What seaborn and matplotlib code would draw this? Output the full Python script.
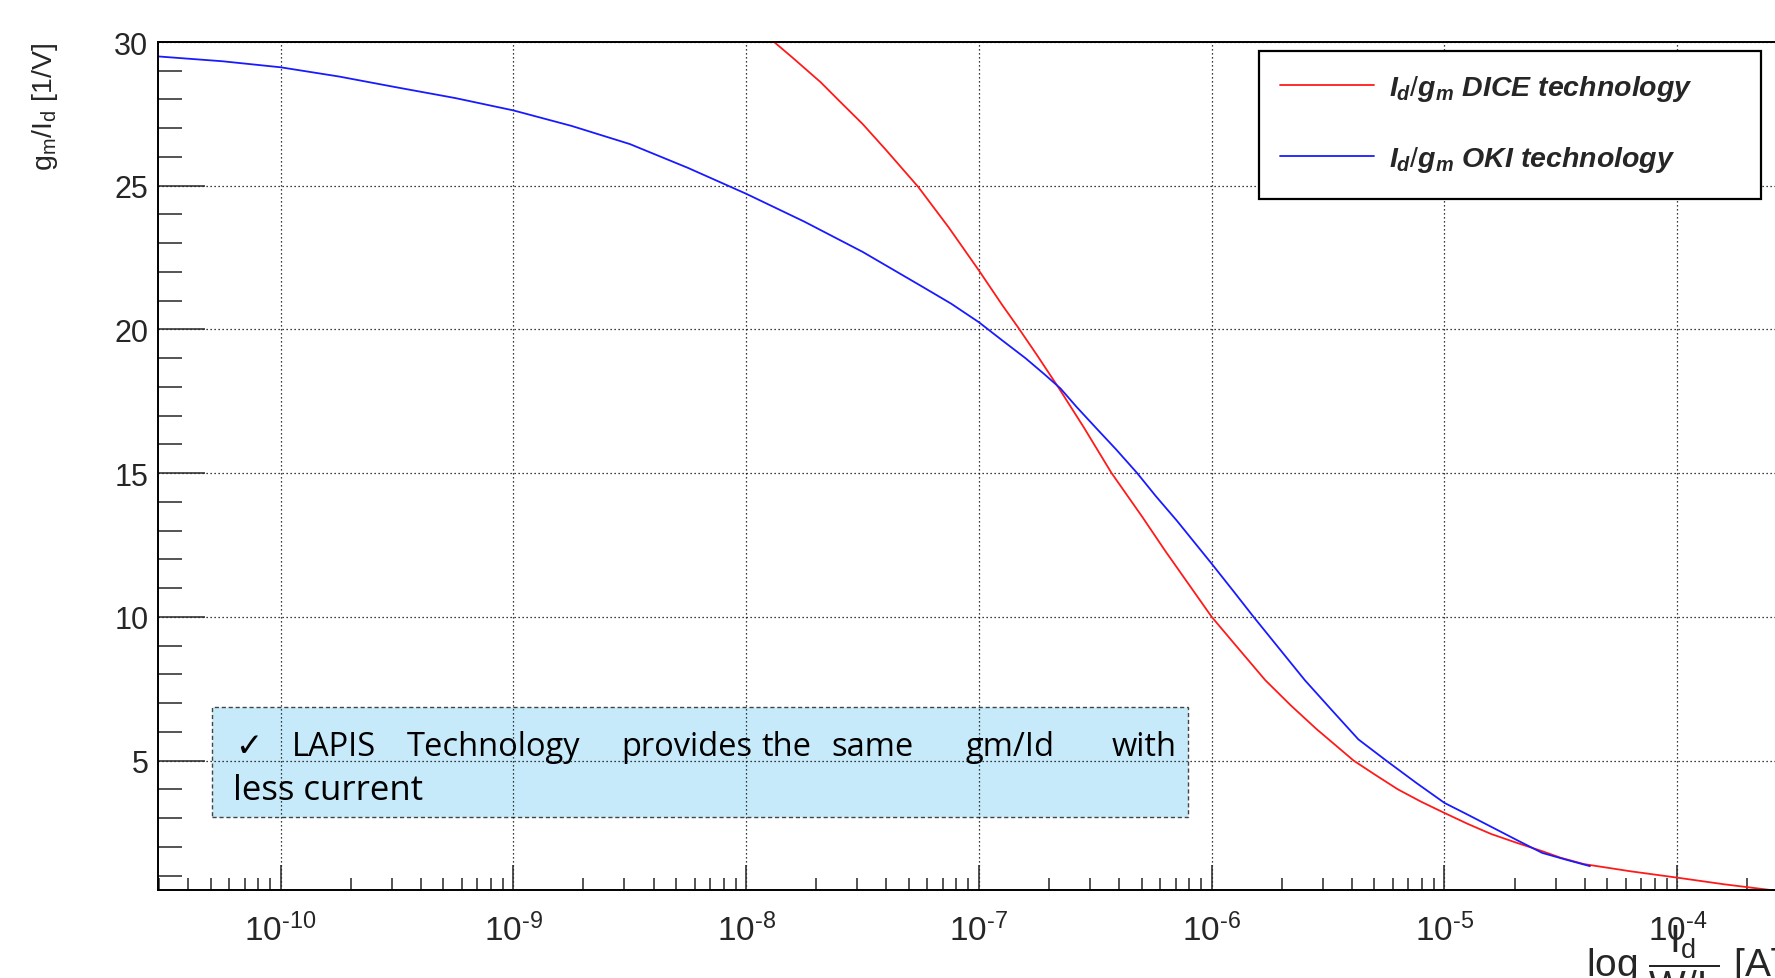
import numpy as np
import pandas as pd
import matplotlib
matplotlib.use("Agg")
import matplotlib.pyplot as plt
import matplotlib.patches as mpatches
from matplotlib.ticker import LogLocator, MultipleLocator, NullFormatter, FuncFormatter
import seaborn as sns

# ---- data: log10 of drain current density I_d/(W/L) [A] and gm/Id [1/V] ----
log_id_dice = [-7.95, -7.88, -7.80, -7.68, -7.60, -7.50, -7.40, -7.26, -7.13,
               -7.00, -6.90, -6.83, -6.75, -6.66, -6.55, -6.43, -6.30, -6.20,
               -6.10, -6.00, -5.90, -5.77, -5.66, -5.55, -5.47, -5.39, -5.30,
               -5.20, -5.10, -5.00, -4.90, -4.80, -4.70, -4.58, -4.50, -4.40,
               -4.20, -4.00, -3.80, -3.62, -3.55]
gm_id_dice = [30.5, 30.0, 29.45, 28.6, 27.95, 27.15, 26.25, 24.95, 23.55,
              22.05, 20.85, 20.05, 19.1, 18.0, 16.6, 15.0, 13.5, 12.3,
              11.15, 10.0, 9.04, 7.8, 6.92, 6.1, 5.55, 5.0, 4.52,
              4.0, 3.57, 3.18, 2.8, 2.45, 2.17, 1.85, 1.62, 1.40,
              1.15, 0.93, 0.70, 0.52, 0.45]

log_id_oki = [-10.53, -10.25, -10.00, -9.75, -9.50, -9.25, -9.00, -8.75, -8.50,
              -8.25, -8.00, -7.75, -7.50, -7.25, -7.12, -7.00, -6.90, -6.80,
              -6.72, -6.65, -6.58, -6.50, -6.41, -6.32, -6.24, -6.15, -6.08,
              -6.00, -5.91, -5.82, -5.71, -5.60, -5.48, -5.37, -5.25, -5.12,
              -5.00, -4.90, -4.79, -4.68, -4.58, -4.48, -4.375]
gm_id_oki = [29.50, 29.33, 29.12, 28.80, 28.42, 28.05, 27.62, 27.08, 26.45,
             25.62, 24.72, 23.75, 22.70, 21.52, 20.90, 20.25, 19.62, 19.00,
             18.45, 17.95, 17.30, 16.60, 15.82, 15.0, 14.2, 13.35, 12.65,
             11.85, 10.93, 10.0, 8.9, 7.8, 6.72, 5.74, 5.0, 4.22,
             3.53, 3.12, 2.66, 2.20, 1.79, 1.56, 1.33]

labels = [r"$\mathit{I_{d}/g_{m}}$ DICE technology",
          r"$\mathit{I_{d}/g_{m}}$ OKI technology"]
colors = ["#ff1a1a", "#1a1aff"]

x_limits = (10 ** -10.527, 10 ** -3.58)
y_limits = (0.5, 30.0)

note_line1 = ["\u2713", "LAPIS", "Technology", "provides", "the", "same", "gm/Id", "with"]
note_line2 = "less current"

dice = pd.DataFrame({"current": np.power(10.0, log_id_dice), "gm_id": gm_id_dice})
oki = pd.DataFrame({"current": np.power(10.0, log_id_oki), "gm_id": gm_id_oki})

# ---- style ----
sns.set_style("white")
plt.rcParams["font.family"] = ["Liberation Sans", "DejaVu Sans"]
plt.rcParams["mathtext.fontset"] = "custom"
plt.rcParams["mathtext.rm"] = "Liberation Sans"
plt.rcParams["mathtext.it"] = "Liberation Sans:italic:bold"
plt.rcParams["mathtext.bf"] = "Liberation Sans:bold"
plt.rcParams["axes.unicode_minus"] = False

W, H = 1775, 979
fig = plt.figure(figsize=(W / 100, H / 100), dpi=100)
fig.patch.set_facecolor("white")

def fx(px):
    return px / W

def fy(py):
    return 1 - py / H

ax_left, ax_right, ax_top, ax_bottom = 158, 1775, 43, 891
ax = fig.add_axes([fx(ax_left), fy(ax_bottom), fx(ax_right - ax_left), (ax_bottom - ax_top) / H])
ax.set_xscale("log")

sns.lineplot(data=dice, x="current", y="gm_id", ax=ax, color=colors[0], lw=1.3,
             label=labels[0], sort=False)
sns.lineplot(data=oki, x="current", y="gm_id", ax=ax, color=colors[1], lw=1.3,
             label=labels[1], sort=False)

ax.set_xlim(*x_limits)
ax.set_ylim(*y_limits)

# axes frame and ticks
for side in ["left", "bottom", "top"]:
    ax.spines[side].set_visible(True)
    ax.spines[side].set_color("black")
    ax.spines[side].set_linewidth(1.4)
ax.spines["right"].set_visible(False)


def decade_label(value, pos):
    exponent = int(round(np.log10(value)))
    return r"$10^{\text{%d}}$" % exponent


ax.xaxis.set_major_locator(LogLocator(base=10, numticks=20))
ax.xaxis.set_major_formatter(FuncFormatter(decade_label))
ax.xaxis.set_minor_locator(LogLocator(base=10, subs=np.arange(2, 10), numticks=200))
ax.xaxis.set_minor_formatter(NullFormatter())
ax.yaxis.set_major_locator(MultipleLocator(5))
ax.yaxis.set_minor_locator(MultipleLocator(1))

ax.tick_params(axis="x", which="major", direction="in", length=18, width=1.1,
               labelsize=24, pad=16, top=False, bottom=True)
ax.tick_params(axis="x", which="minor", direction="in", length=8.5, width=1.1,
               top=False, bottom=True)
ax.tick_params(axis="y", which="major", direction="in", length=34, width=1.1,
               labelsize=22, pad=7, left=True, right=False)
ax.tick_params(axis="y", which="minor", direction="in", length=17, width=1.1,
               left=True, right=False)

ax.grid(True, which="major", color="black", linestyle=(0, (1, 2.2)), linewidth=0.9)
ax.set_axisbelow(True)

# axis titles
ax.set_ylabel(r"g$_{\rm m}$/I$_{\rm d}$ [1/V]", fontsize=20.5, loc="top", va="center")
ax.yaxis.set_label_coords((45 - ax_left) / (ax_right - ax_left), 1.0)
ax.set_xlabel(r"log $\dfrac{\rm I_{d}}{\rm W/L}$ [A]", fontsize=28, loc="right")
ax.xaxis.set_label_coords((1780 - ax_left) / (ax_right - ax_left),
                          -(977 - ax_bottom) / (ax_bottom - ax_top))
ax.xaxis.label.set_va("baseline")

# legend entries, framed by a box drawn in figure pixels
legend_box = mpatches.Rectangle((fx(1259), fy(200)), fx(1761 - 1259), (200 - 52) / H,
                                transform=fig.transFigure, facecolor="white",
                                edgecolor="black", linewidth=1.6, zorder=4,
                                clip_on=False)
ax.add_patch(legend_box)
leg = ax.legend(loc="upper left", bbox_to_anchor=(fx(1254), fy(48)),
                bbox_transform=fig.transFigure, frameon=False,
                prop={"weight": "bold", "style": "italic", "size": 20.5},
                handlelength=3.3, handletextpad=0.55, labelspacing=1.45,
                borderpad=0.9, borderaxespad=0)
leg.set_zorder(6)
for line in leg.get_lines():
    line.set_linewidth(1.3)

# annotation box (grid stays visible above its fill)
box = mpatches.Rectangle((fx(212), fy(818)), fx(1188 - 212), (818 - 708) / H,
                         transform=fig.transFigure, facecolor="#c6eaf9",
                         edgecolor="#444444", linewidth=1.0, linestyle=(0, (3, 2)),
                         zorder=0.4, clip_on=False)
ax.add_patch(box)

note_font = ["Open Sans", "DejaVu Sans"]
word_x = [235, 292, 407, 621, 761, 831, 965, 1112]
for word, px in zip(note_line1, word_x):
    fig.text(fx(px), fy(756), word, fontsize=23.5, family=note_font,
             ha="left", va="baseline", color="black", zorder=4)
fig.text(fx(233), fy(800), note_line2, fontsize=25, family=note_font,
         ha="left", va="baseline", color="black", zorder=4)

fig.savefig("out.png", dpi=100, facecolor="white")
